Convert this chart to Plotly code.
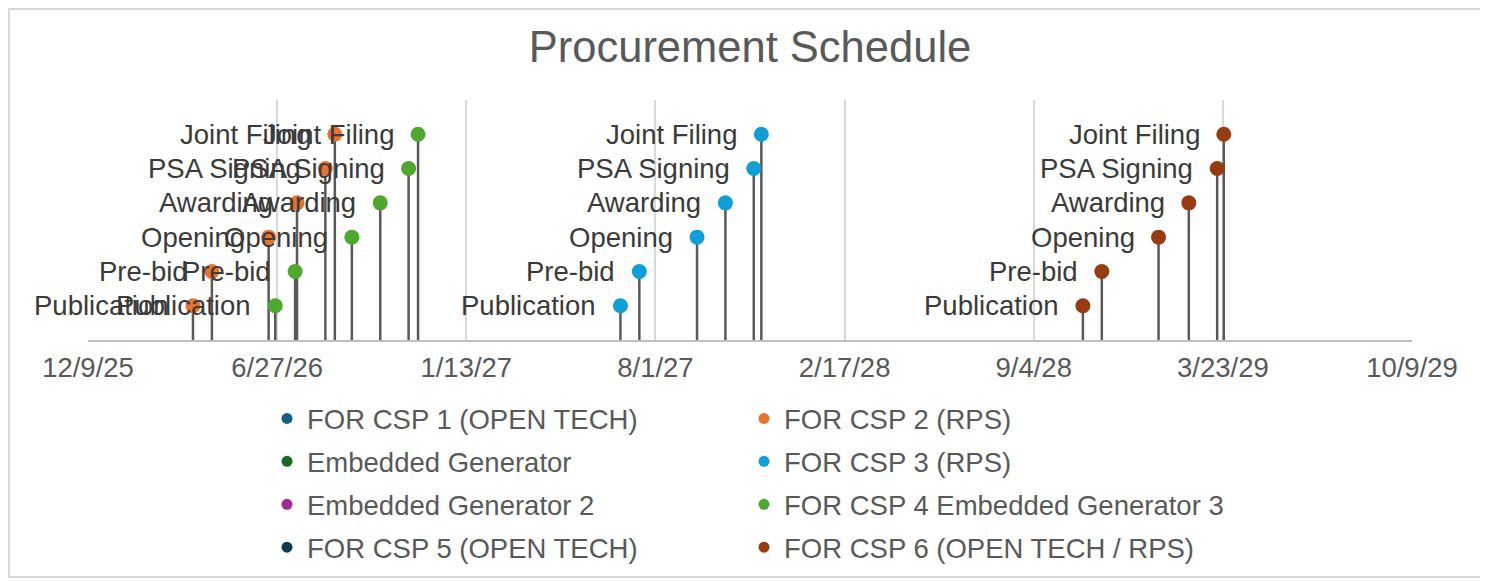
import plotly.graph_objects as go

# ---------------- data ----------------
milestones = ["Publication", "Pre-bid", "Opening", "Awarding", "PSA Signing", "Joint Filing"]
levels = [1, 2, 3, 4, 5, 6]

series_names = [
    "FOR CSP 1 (OPEN TECH)",
    "FOR CSP 2 (RPS)",
    "Embedded Generator",
    "FOR CSP 3 (RPS)",
    "Embedded Generator 2",
    "FOR CSP 4 Embedded Generator 3",
    "FOR CSP 5 (OPEN TECH)",
    "FOR CSP 6 (OPEN TECH / RPS)",
]
series_colors = ["#156082", "#E97132", "#196B24", "#0F9ED5", "#A02B93", "#4EA72E", "#0D3B50", "#963B12"]

csp1_dates = []
csp2_dates = ["2026-03-30", "2026-04-19", "2026-06-18", "2026-07-18", "2026-08-17", "2026-08-27"]
emb1_dates = []
csp3_dates = ["2027-06-25", "2027-07-15", "2027-09-14", "2027-10-14", "2027-11-13", "2027-11-21"]
emb2_dates = []
csp4_dates = ["2026-06-25", "2026-07-16", "2026-09-14", "2026-10-14", "2026-11-13", "2026-11-23"]
csp5_dates = []
csp6_dates = ["2028-10-26", "2028-11-15", "2029-01-14", "2029-02-15", "2029-03-17", "2029-03-24"]

series_dates = [csp1_dates, csp2_dates, emb1_dates, csp3_dates, emb2_dates, csp4_dates, csp5_dates, csp6_dates]

tick_dates = ["2025-12-09", "2026-06-27", "2027-01-13", "2027-08-01", "2028-02-17", "2028-09-04", "2029-03-23", "2029-10-09"]
tick_labels = ["12/9/25", "6/27/26", "1/13/27", "8/1/27", "2/17/28", "9/4/28", "3/23/29", "10/9/29"]

# legend column assignment (reference shows two columns)
legend_col = ["legend", "legend2", "legend", "legend2", "legend", "legend2", "legend", "legend2"]

FONT = "Liberation Sans, Arial, sans-serif"
STEM = "#595959"

# page body adds an 8px offset; figure is sized to compensate
W, H = 1480, 574
L, R, T, B = 80, 76, 92, 242
PW, PH = W - L - R, H - T - B  # 1324 x 240


def px_x(px):  # figure pixel -> paper x
    return (px - L) / PW


def px_y(py):  # figure pixel -> paper y
    return (H - B - py) / PH


fig = go.Figure()

# stems
for dates, color in zip(series_dates, series_colors):
    if not dates:
        continue
    xs, ys = [], []
    for d, lv in zip(dates, levels):
        xs += [d, d, None]
        ys += [0, lv, None]
    fig.add_trace(go.Scatter(x=xs, y=ys, mode="lines", line=dict(color=STEM, width=2.5),
                             showlegend=False, hoverinfo="skip"))

# markers (data)
for name, dates, color in zip(series_names, series_dates, series_colors):
    if not dates:
        continue
    fig.add_trace(go.Scatter(x=dates, y=levels[:len(dates)], mode="markers", name=name,
                             marker=dict(color=color, size=15, line=dict(width=0)),
                             showlegend=False))

# legend entries
for i, (name, color, lg) in enumerate(zip(series_names, series_colors, legend_col)):
    fig.add_trace(go.Scatter(x=[None], y=[None], mode="markers", name=name,
                             marker=dict(color=color, size=11), legend=lg,
                             legendgroup="g%d" % i, showlegend=True))

# data labels
for dates in series_dates:
    for d, lv, lab in zip(dates, levels, milestones):
        fig.add_annotation(x=d, y=lv, xref="x", yref="y", text=lab, showarrow=False,
                           xanchor="right", yanchor="middle", xshift=-22,
                           font=dict(family=FONT, size=27.5, color="#3A3A3A"))

# outer border
fig.add_shape(type="rect", xref="paper", yref="paper",
              x0=px_x(1), x1=px_x(1473),
              y0=px_y(569), y1=px_y(1),
              line=dict(color="#D9D9D9", width=2), fillcolor="rgba(0,0,0,0)", layer="below")

legend_font = dict(family=FONT, size=27.5, color="#595959")

fig.update_layout(
    width=W, height=H,
    margin=dict(l=L, r=R, t=T, b=B, autoexpand=False),
    paper_bgcolor="white", plot_bgcolor="white",
    title=dict(text="Procurement Schedule", x=0.5, xref="paper", xanchor="center",
               y=1 - 39 / H, yref="container", yanchor="middle",
               font=dict(family=FONT, size=43.5, color="#595959")),
    xaxis=dict(type="date", range=[tick_dates[0], tick_dates[-1]],
               tickmode="array", tickvals=tick_dates, ticktext=tick_labels,
               showgrid=True, gridcolor="#D9D9D9", gridwidth=2,
               showline=True, linecolor="#BFBFBF", linewidth=2,
               ticks="", ticklabelstandoff=2, zeroline=False, automargin=False,
               tickfont=dict(family=FONT, size=27.5, color="#595959")),
    yaxis=dict(range=[0, 7], visible=False, showgrid=False, zeroline=False),
    legend=dict(x=259 / W, xref="container", xanchor="left",
                y=1 - 386 / H, yref="container", yanchor="top",
                orientation="v", tracegroupgap=4.2, bgcolor="rgba(0,0,0,0)",
                font=legend_font),
    legend2=dict(x=736 / W, xref="container", xanchor="left",
                 y=1 - 386 / H, yref="container", yanchor="top",
                 orientation="v", tracegroupgap=4.2, bgcolor="rgba(0,0,0,0)",
                 font=legend_font),
    showlegend=True,
)

fig.write_html("out.html")
